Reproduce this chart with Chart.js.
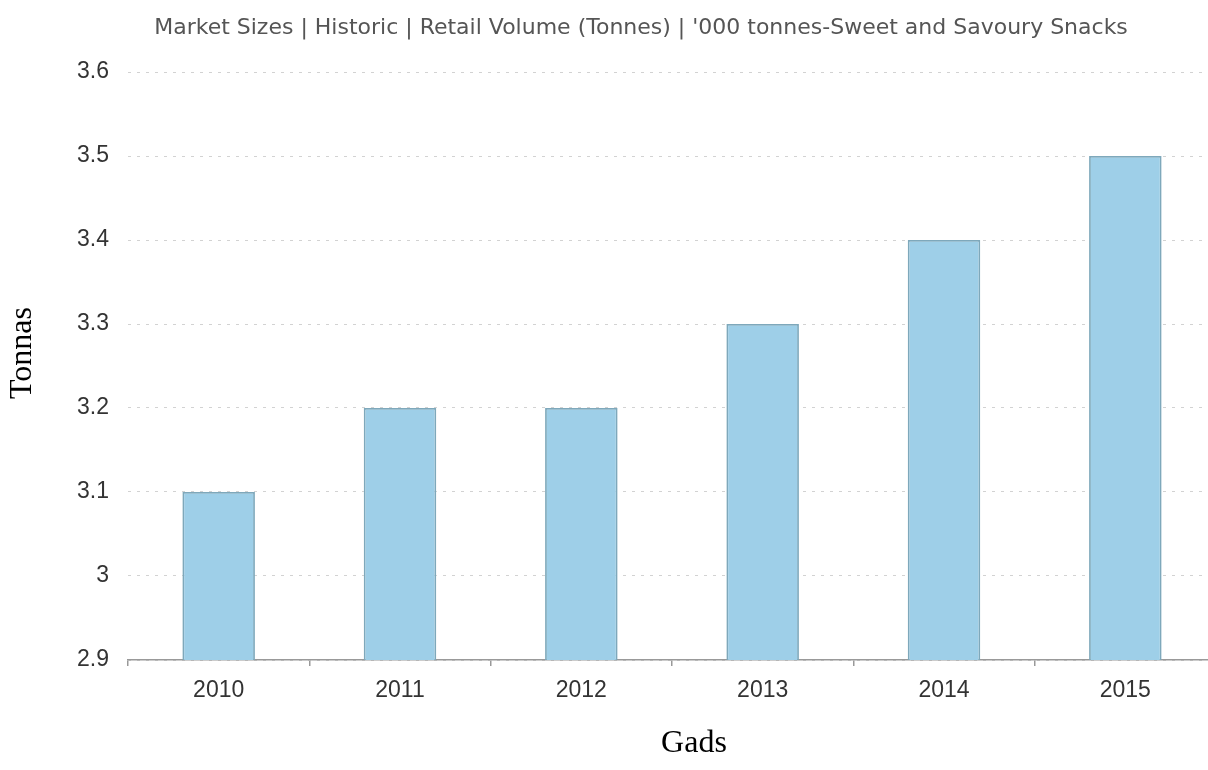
<!DOCTYPE html>
<html>
<head>
<meta charset="utf-8">
<script src="https://cdn.jsdelivr.net/npm/chart.js@4.4.0/dist/chart.umd.min.js"></script>
<style>
  html, body { margin: 0; padding: 0; background: #fff; overflow: hidden; width: 1208px; height: 770px; }
  #wrap { position: absolute; left: 0; top: 0; width: 1230px; height: 770px; }
</style>
</head>
<body>
<div id="wrap"><canvas id="c" width="1230" height="770"></canvas></div>
<script>
const categories = ["2010", "2011", "2012", "2013", "2014", "2015"];
const values = [3.1, 3.2, 3.2, 3.3, 3.4, 3.5];
const yTickLabels = ["2.9", "3", "3.1", "3.2", "3.3", "3.4", "3.5", "3.6"];
const titleText = "Market Sizes | Historic | Retail Volume (Tonnes) | '000 tonnes-Sweet and Savoury Snacks";
const yTitle = "Tonnas";
const xTitle = "Gads";

const textLayer = {
  id: 'textLayer',
  afterDraw(chart) {
    const ctx = chart.ctx;
    ctx.save();
    ctx.textAlign = 'center';
    ctx.textBaseline = 'middle';
    ctx.fillStyle = '#555555';
    ctx.font = '22px "DejaVu Sans", Verdana, sans-serif';
    ctx.fillText(titleText, 641, 28);
    ctx.fillStyle = '#000';
    ctx.font = '32px "Liberation Serif", "Times New Roman", serif';
    ctx.fillText(xTitle, 694, 744);
    ctx.translate(23, 353);
    ctx.rotate(-Math.PI / 2);
    ctx.fillText(yTitle, 0, 0);
    ctx.restore();
  }
};

new Chart(document.getElementById('c'), {
  type: 'bar',
  data: {
    labels: categories,
    datasets: [{
      data: values,
      backgroundColor: '#9ecfe8',
      borderColor: '#7ea8bb',
      borderWidth: 1.8,
      barPercentage: 0.4,
      categoryPercentage: 1.0
    }]
  },
  options: {
    responsive: false,
    animation: false,
    layout: { padding: { left: 0, right: 14, top: 72, bottom: 0 } },
    plugins: {
      legend: { display: false },
      tooltip: { enabled: false },
      title: { display: false }
    },
    scales: {
      x: {
        offset: true,
        grid: { display: true, offset: true, drawOnChartArea: false, drawTicks: true, tickLength: 6, color: '#999999', lineWidth: 1.5 },
        border: { display: true, color: '#999999', width: 1.5 },
        ticks: { color: '#333333', padding: 11, font: { family: '"Liberation Sans", Arial, sans-serif', size: 23 } },
        afterFit(scale) { scale.height = 110; }
      },
      y: {
        min: 2.9,
        max: 3.6,
        grid: { color: '#d2d2d2', lineWidth: 1, drawTicks: false },
        border: { display: false, dash: [3, 6] },
        ticks: {
          stepSize: 0.1,
          color: '#333333',
          padding: 19,
          font: { family: '"Liberation Sans", Arial, sans-serif', size: 23 },
          callback: (v, i) => yTickLabels[i]
        },
        afterFit(scale) { scale.width = 128; }
      }
    }
  },
  plugins: [textLayer]
});
</script>
</body>
</html>
